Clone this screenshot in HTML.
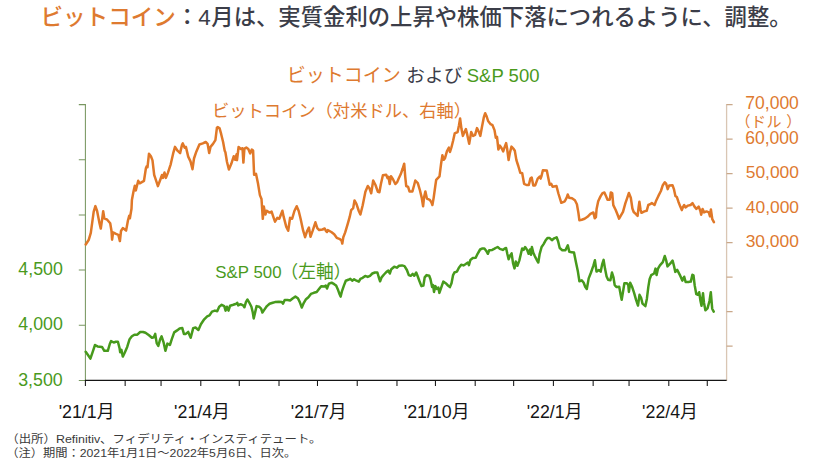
<!DOCTYPE html>
<html lang="ja"><head><meta charset="utf-8"><title>ビットコイン および S&amp;P 500</title>
<style>
html,body{margin:0;padding:0;background:#fff;font-family:"Liberation Sans",sans-serif;}
body{width:825px;height:464px;overflow:hidden;position:relative;}
svg{position:absolute;left:0;top:0;display:block;}
svg text{font-family:"Liberation Sans","Noto Sans CJK JP",sans-serif;}
</style></head><body>
<svg width="825" height="464" viewBox="0 0 825 464" role="img" aria-label="ビットコイン および S&amp;P 500 のチャート">
<rect width="825" height="464" fill="#fff"/>
<g role="img" aria-label="ビットコイン：4月は、実質金利の上昇や株価下落につれるように、調整。"><title>ビットコイン：4月は、実質金利の上昇や株価下落につれるように、調整。</title><text x="40.5" y="24.5" font-size="22.55" font-weight="500" fill="#DE7A30">ビットコイン</text><text x="175.9" y="24.5" font-size="22.45" font-weight="500" fill="#3B3D48">：4</text><text x="211.35" y="24.5" font-size="22.35" font-weight="500" fill="#3B3D48">月は、実質金利の上昇や株価下落につれるように、調整。</text></g>
<g role="img" aria-label="ビットコイン および S&amp;P 500"><title>ビットコイン および S&amp;P 500</title><text x="286.67" y="82.4" font-size="19" fill="#DE7A30">ビットコイン</text><text x="406.36" y="82.4" font-size="18.7" fill="#3B3D48">および</text><text x="466.78" y="82.2" font-size="18.5" fill="#4A9A1C">S&amp;P 500</text></g>
<g role="img" aria-label="ビットコイン（対米ドル、右軸）"><title>ビットコイン（対米ドル、右軸）</title><text x="211.9" y="117" font-size="17.3" fill="#DE7A30">ビットコイン（対米ドル、右軸）</text></g>
<g role="img" aria-label="S&amp;P 500（左軸）"><title>S&amp;P 500（左軸）</title><text x="215.36" y="278.2" font-size="16.85" fill="#4A9A1C">S&amp;P 500</text><text x="280.5" y="278.2" font-size="17.7" fill="#4A9A1C">（左軸）</text></g>
<g><path d="M85.4 104.10V380.90" stroke="#789660" stroke-width="1.05" fill="none"/><path d="M78.80 104.60H85.4M78.80 159.76H85.4M78.80 214.92H85.4M78.80 270.08H85.4M78.80 325.24H85.4M78.80 380.40H85.4" stroke="#789660" stroke-width="1.05" fill="none"/><path d="M726.6 104.10V381.10" stroke="#d9c6b4" stroke-width="1.3" fill="none"/><path d="M726.6 104.60H732.6M726.6 139.10H732.6M726.6 173.60H732.6M726.6 208.10H732.6M726.6 242.60H732.6M726.6 277.10H732.6M726.6 311.60H732.6M726.6 346.10H732.6" stroke="#c9a88a" stroke-width="1.1" fill="none"/><path d="M84.9 380.4H726.6" stroke="#151515" stroke-width="1.1" fill="none"/><path d="M85.40 380.4V386.09999999999997M125.15 380.4V386.09999999999997M161.05 380.4V386.09999999999997M200.80 380.4V386.09999999999997M239.26 380.4V386.09999999999997M279.01 380.4V386.09999999999997M317.48 380.4V386.09999999999997M357.23 380.4V386.09999999999997M396.97 380.4V386.09999999999997M435.44 380.4V386.09999999999997M475.19 380.4V386.09999999999997M513.65 380.4V386.09999999999997M553.40 380.4V386.09999999999997M593.15 380.4V386.09999999999997M629.05 380.4V386.09999999999997M668.80 380.4V386.09999999999997M707.27 380.4V386.09999999999997" stroke="#151515" stroke-width="1.05" fill="none"/></g>
<g role="img" aria-label="70,000"><title>70,000</title><text x="745.34" y="109.3" font-size="17.5" fill="#DE7A30">70,000</text></g>
<g role="img" aria-label="60,000"><title>60,000</title><text x="745.22" y="143.8" font-size="17.5" fill="#DE7A30">60,000</text></g>
<g role="img" aria-label="50,000"><title>50,000</title><text x="745.73" y="178.3" font-size="17.4" fill="#DE7A30">50,000</text></g>
<g role="img" aria-label="40,000"><title>40,000</title><text x="745.85" y="212.8" font-size="17.4" fill="#DE7A30">40,000</text></g>
<g role="img" aria-label="30,000"><title>30,000</title><text x="745.7" y="247.3" font-size="17.4" fill="#DE7A30">30,000</text></g>
<g role="img" aria-label="（ドル）"><title>（ドル）</title><text x="735.51 750.90 766.62 786.22" y="127" font-size="15" fill="#DE7A30">（ドル）</text></g>
<g role="img" aria-label="4,500"><title>4,500</title><text x="18.34" y="275.18" font-size="17.8" fill="#4A9A1C">4,500</text></g>
<g role="img" aria-label="4,000"><title>4,000</title><text x="18.34" y="330.34" font-size="17.8" fill="#4A9A1C">4,000</text></g>
<g role="img" aria-label="3,500"><title>3,500</title><text x="18.18" y="385.5" font-size="17.8" fill="#4A9A1C">3,500</text></g>
<g role="img" aria-label="'21/1月"><title>'21/1月</title><text x="86.6" y="417.9" font-size="17.8" text-anchor="middle" fill="#151515">'21/1月</text></g>
<g role="img" aria-label="'21/4月"><title>'21/4月</title><text x="202" y="417.9" font-size="17.8" text-anchor="middle" fill="#151515">'21/4月</text></g>
<g role="img" aria-label="'21/7月"><title>'21/7月</title><text x="318.7" y="417.9" font-size="17.8" text-anchor="middle" fill="#151515">'21/7月</text></g>
<g role="img" aria-label="'21/10月"><title>'21/10月</title><text x="436.6" y="417.9" font-size="17.8" text-anchor="middle" fill="#151515">'21/10月</text></g>
<g role="img" aria-label="'22/1月"><title>'22/1月</title><text x="554.6" y="417.9" font-size="17.8" text-anchor="middle" fill="#151515">'22/1月</text></g>
<g role="img" aria-label="'22/4月"><title>'22/4月</title><text x="670" y="417.9" font-size="17.8" text-anchor="middle" fill="#151515">'22/4月</text></g>
<g role="img" aria-label="（出所）Refinitiv、フィデリティ・インスティテュート。"><title>（出所）Refinitiv、フィデリティ・インスティテュート。</title><text x="6.22" y="442.6" font-size="11.4" textLength="315.3" lengthAdjust="spacingAndGlyphs" fill="#3a3a3a">（出所）Refinitiv、フィデリティ・インスティテュート。</text></g>
<g role="img" aria-label="（注）期間：2021年1月1日～2022年5月6日、日次。"><title>（注）期間：2021年1月1日～2022年5月6日、日次。</title><text x="6.18" y="456.8" font-size="11.4" textLength="290.1" lengthAdjust="spacingAndGlyphs" fill="#3a3a3a">（注）期間：2021年1月1日～2022年5月6日、日次。</text></g>
<path d="M85.7 244.5L88.8 239.7L90.8 232.9L93.7 211.6L95.4 206.1L97.0 210.6L99.5 223.2L100.8 228.6L102.4 217.4L103.2 211.2L104.3 218.3L107.2 219.7L110.2 223.2L111.5 231.0L112.1 239.7L113.1 232.5L116.0 233.9L118.3 234.8L119.9 241.1L121.0 231.0L122.8 228.1L126.1 230.6L128.0 220.3L129.2 215.8L129.9 218.3L131.5 208.7L131.9 200.0L133.5 191.5L134.8 185.7L135.8 190.5L138.2 180.8L139.7 183.3L144.0 180.8L145.9 168.2L146.7 166.3L147.5 167.2L149.0 153.7L150.9 156.2L152.5 160.4L154.2 175.0L155.2 177.9L156.6 182.2L157.9 186.1L160.1 180.2L162.0 175.0L163.0 177.9L164.5 172.5L165.9 177.9L167.8 173.1L170.7 164.3L173.1 153.7L175.0 146.9L177.5 150.7L180.1 153.1L182.0 144.9L182.8 143.4L184.7 147.8L185.9 146.9L188.2 156.6L190.5 161.4L192.5 169.2L194.0 158.5L196.3 151.7L199.4 144.5L202.8 143.4L205.7 142.0L207.6 143.9L209.2 153.1L210.5 146.9L213.0 143.9L215.4 140.1L216.9 127.8L217.7 127.1L219.6 128.4L221.2 134.2L223.1 142.0L224.7 150.7L225.4 152.3L227.0 162.0L228.9 169.5L231.2 164.1L233.7 156.3L235.1 159.8L236.6 154.4L237.0 160.2L238.6 147.0L240.9 149.0L242.5 148.2L243.4 162.6L244.4 148.6L246.3 147.6L248.3 149.0L250.2 153.4L251.8 149.6L253.1 150.5L254.1 174.8L256.0 173.8L258.0 183.5L259.9 195.1L261.5 199.0L262.8 218.8L263.8 206.4L265.4 214.5L266.7 210.7L269.6 212.6L271.6 211.6L273.5 217.4L275.0 221.7L277.3 217.8L279.3 218.8L282.4 210.7L283.7 216.9L286.2 226.6L288.2 230.8L290.1 217.8L292.1 218.8L294.4 211.0L296.7 206.2L298.7 211.0L300.6 218.8L303.1 230.4L305.1 237.2L307.0 231.4L308.9 227.5L310.5 236.7L312.8 230.4L315.4 222.3L317.3 228.1L319.2 230.1L322.5 229.5L324.7 228.5L325.8 230.8L327.0 232.0L327.8 230.1L331.3 232.0L334.2 234.3L336.7 237.8L340.0 239.2L341.5 240.5L342.3 243.6L343.3 237.2L345.2 232.4L347.8 223.7L349.7 216.9L351.2 210.1L353.2 208.1L354.5 200.4L356.5 204.2L358.8 211.0L360.4 214.5L362.7 205.2L365.4 191.8L367.8 186.0L369.3 187.9L371.2 193.3L373.2 180.5L375.5 185.0L377.9 191.8L379.4 192.2L380.9 184.0L382.9 175.3L386.2 174.7L387.6 178.2L388.5 176.7L389.7 184.0L391.0 176.3L393.0 179.2L395.3 184.0L397.2 182.1L398.8 178.2L400.7 174.3L402.7 168.5L404.2 163.7L405.2 176.3L406.2 186.0L408.1 186.9L409.5 191.4L412.4 191.4L413.9 186.0L415.3 180.5L417.8 183.1L419.8 189.8L421.7 197.6L423.1 206.3L424.0 197.6L425.4 191.4L426.9 198.6L429.8 199.9L431.4 202.4L432.4 205.0L433.7 197.6L435.3 186.0L436.2 179.8L439.5 176.3L441.1 163.7L442.4 155.3L443.8 159.8L445.0 158.2L446.9 151.4L448.9 147.5L450.0 152.0L451.4 147.5L453.1 140.7L454.7 133.4L457.6 132.0L459.0 125.2L460.1 118.4L461.5 129.1L462.9 135.9L464.4 132.0L465.9 129.1L467.3 134.9L469.2 143.7L471.2 132.0L473.1 135.9L475.1 134.9L477.0 128.1L478.9 132.0L480.3 135.9L481.9 127.2L483.8 117.5L485.2 113.2L486.7 116.5L488.1 121.0L490.6 124.2L492.5 125.2L494.5 130.1L495.8 137.8L497.0 136.9L498.4 149.5L499.9 145.6L501.8 148.5L503.2 151.4L504.8 146.6L506.1 143.1L507.1 148.5L508.6 160.1L510.0 152.4L511.5 146.6L513.3 148.5L514.8 150.8L516.4 160.1L518.3 166.0L520.3 172.8L522.2 173.3L524.1 183.8L526.5 185.0L528.8 185.0L530.4 178.6L531.7 177.6L533.3 185.4L535.2 185.4L537.7 178.6L539.7 176.6L540.6 178.6L541.5 176.0L542.9 170.2L546.8 170.6L548.1 177.0L549.7 184.8L551.2 183.8L552.6 186.7L556.5 186.1L558.4 193.5L561.3 202.8L564.8 201.3L566.8 197.4L567.7 194.5L569.1 197.8L572.0 198.3L574.9 200.3L576.9 204.2L578.4 212.9L579.4 220.3L581.7 219.7L584.6 218.7L587.5 216.8L590.4 213.9L593.4 212.5L594.7 218.3L595.9 217.2L596.6 209.0L598.2 201.3L600.5 196.4L602.5 193.1L604.4 192.5L606.4 197.0L607.5 199.7L609.8 199.7L610.8 192.5L612.2 193.1L613.3 205.1L615.7 210.0L617.6 214.8L619.1 218.7L621.1 215.2L623.0 211.9L625.4 203.2L626.9 198.8L628.9 193.0L630.8 197.8L632.4 208.5L633.7 212.0L635.7 213.9L637.6 215.9L638.6 207.5L639.4 201.7L640.5 209.5L641.5 212.8L644.4 211.4L646.7 210.8L648.3 205.0L650.2 204.2L651.8 203.1L654.5 205.0L656.0 201.1L658.4 195.9L660.9 191.0L662.8 185.2L664.8 182.3L666.1 183.7L667.7 189.1L669.2 185.6L672.5 185.2L673.9 189.1L675.4 195.9L676.8 196.9L678.4 201.7L680.3 206.6L681.8 210.1L683.2 206.6L684.2 205.0L685.5 207.5L688.0 205.6L690.6 205.0L692.5 203.1L694.5 206.6L696.4 208.9L698.7 206.6L700.3 210.8L701.2 214.7L702.6 208.9L704.1 212.4L706.5 211.4L708.8 212.4L710.0 216.3L710.9 209.5L712.3 219.2L713.9 222.1" fill="none" stroke="#E07828" stroke-width="2.5" stroke-linejoin="round" stroke-linecap="round"><title>ビットコイン（対米ドル、右軸）</title></path>
<path d="M85.7 351.8L87.8 354.7L90.4 358.6L92.7 351.8L95.0 345.0L97.5 346.4L102.0 346.9L104.3 350.8L107.8 350.8L109.8 344.0L111.1 341.1L113.7 342.5L116.0 341.7L117.9 341.7L119.5 347.9L120.2 352.2L121.4 349.8L122.8 356.6L124.7 352.8L127.2 346.9L129.6 339.2L131.9 336.3L134.4 334.7L137.3 334.7L140.2 332.0L143.1 332.0L145.5 332.8L149.0 335.3L151.9 337.8L153.8 337.2L155.2 333.9L156.7 343.1L158.3 346.0L160.2 339.2L161.6 336.3L163.5 342.1L165.4 350.8L167.4 343.6L169.9 345.0L171.8 339.2L174.2 332.4L177.1 330.4L179.6 328.5L182.3 328.1L183.9 333.9L185.8 333.9L188.2 331.9L190.7 337.8L193.2 328.1L195.5 327.5L198.4 330.0L200.9 324.2L204.2 319.3L207.2 316.4L209.5 315.4L212.0 311.6L214.9 310.6L217.2 311.2L219.2 306.7L221.7 304.8L224.2 306.1L225.6 310.6L226.9 306.7L228.5 310.6L230.1 305.7L233.3 304.8L236.3 303.8L237.2 302.8L238.2 305.4L240.5 304.2L243.1 305.4L244.4 307.3L246.0 301.9L247.5 299.5L249.4 302.8L251.4 306.7L252.8 312.5L253.7 318.4L255.3 311.6L256.6 306.1L259.1 306.7L261.1 308.6L262.4 312.5L264.4 309.6L266.9 306.1L269.6 303.8L272.7 302.8L275.0 302.1L278.9 301.7L281.8 302.1L283.1 303.6L284.7 300.1L287.6 300.1L290.1 300.5L292.9 298.2L295.4 296.6L297.9 298.2L299.8 302.1L301.8 307.5L303.7 303.1L306.0 299.2L308.4 297.2L310.9 293.9L313.8 292.8L316.7 292.0L318.6 289.5L321.2 286.2L324.5 286.6L325.8 285.6L327.0 288.5L328.9 283.6L331.6 282.7L334.2 284.2L336.1 285.6L338.1 290.1L339.6 294.3L340.6 296.6L341.9 291.4L343.9 285.6L345.8 280.7L348.3 279.8L350.3 278.8L352.2 280.7L354.1 279.2L356.5 280.7L358.8 281.7L360.4 278.8L362.7 277.8L365.2 275.9L367.7 276.9L370.0 275.8L372.3 273.5L374.9 272.5L377.4 272.5L378.7 277.0L380.1 281.3L381.6 277.4L384.0 274.5L386.5 271.9L388.4 270.6L389.8 273.5L391.3 269.2L394.2 266.7L396.8 267.7L399.1 265.7L402.0 265.4L404.5 266.1L406.9 270.0L408.8 275.1L410.7 275.8L412.7 273.9L414.2 275.8L416.2 272.5L417.5 275.8L419.5 281.3L421.4 286.1L423.4 285.5L424.7 277.4L426.6 275.1L429.2 275.8L430.5 279.3L432.1 287.1L433.1 285.1L434.0 291.9L435.4 286.1L436.9 289.0L438.3 287.5L439.4 292.9L441.4 287.1L443.3 281.6L445.7 283.2L448.0 285.5L449.9 287.1L451.5 283.2L453.0 275.4L454.4 272.5L456.9 271.6L458.9 267.7L461.2 264.8L463.5 265.4L465.0 264.5L467.9 262.5L468.9 265.1L470.4 260.0L472.8 258.1L475.7 257.7L477.6 253.8L480.1 249.5L482.5 248.4L484.4 248.4L486.3 250.9L487.9 253.8L489.2 250.3L492.2 249.9L494.1 248.9L495.6 248.0L497.6 247.0L499.9 248.9L502.8 249.9L504.8 248.4L506.1 248.0L507.3 253.8L508.6 259.2L510.0 255.7L511.6 253.4L513.1 263.5L514.5 268.4L515.8 261.6L517.4 265.8L519.3 260.6L520.9 253.8L522.2 248.4L523.6 249.9L525.1 247.0L527.1 249.9L528.6 253.8L530.0 249.5L531.0 254.8L531.9 247.0L533.3 252.8L534.8 256.1L536.8 260.0L538.3 262.5L539.7 253.8L541.6 247.0L543.6 244.1L545.5 240.6L547.5 237.9L549.4 237.9L551.9 240.2L554.2 238.3L556.6 237.3L558.1 241.2L559.7 248.0L562.3 250.2L565.4 250.2L567.8 245.4L569.3 251.8L571.6 252.2L574.0 252.6L575.9 261.9L577.9 271.6L579.4 281.3L581.7 280.3L583.7 282.8L585.2 286.7L586.8 289.0L588.7 278.4L591.0 272.5L593.4 265.7L594.9 260.3L596.5 271.6L598.8 270.0L600.7 271.6L602.3 263.8L603.6 259.9L605.0 268.6L606.6 276.4L608.1 279.7L610.4 280.3L612.0 272.5L613.4 277.0L614.7 285.1L616.6 287.1L619.2 286.7L620.5 293.9L621.7 299.7L623.0 291.9L624.4 283.2L626.9 283.2L628.3 285.1L628.9 291.9L630.2 282.8L632.2 287.1L634.1 292.9L636.0 299.7L638.0 305.5L639.5 294.8L641.1 297.8L642.5 303.6L645.4 306.1L646.9 298.7L648.3 287.1L649.6 279.3L651.2 275.1L654.1 273.5L655.5 268.6L656.6 275.1L658.0 268.6L659.9 265.4L662.8 262.2L664.8 256.0L666.3 260.9L667.5 266.4L670.1 263.7L672.6 260.6L674.0 266.0L675.3 271.9L677.2 269.9L679.8 274.8L682.3 280.6L684.2 276.7L685.6 281.9L688.5 281.9L690.8 281.6L692.4 274.8L693.5 275.4L694.7 285.4L696.3 294.2L697.8 294.8L699.2 292.2L700.5 301.0L701.5 305.8L703.0 293.2L704.0 302.9L705.4 310.3L707.5 308.3L709.5 301.0L710.8 292.2L712.2 308.7L713.7 311.6" fill="none" stroke="#479A1C" stroke-width="2.5" stroke-linejoin="round" stroke-linecap="round"><title>S&amp;P 500（左軸）</title></path>
</svg>
</body></html>
